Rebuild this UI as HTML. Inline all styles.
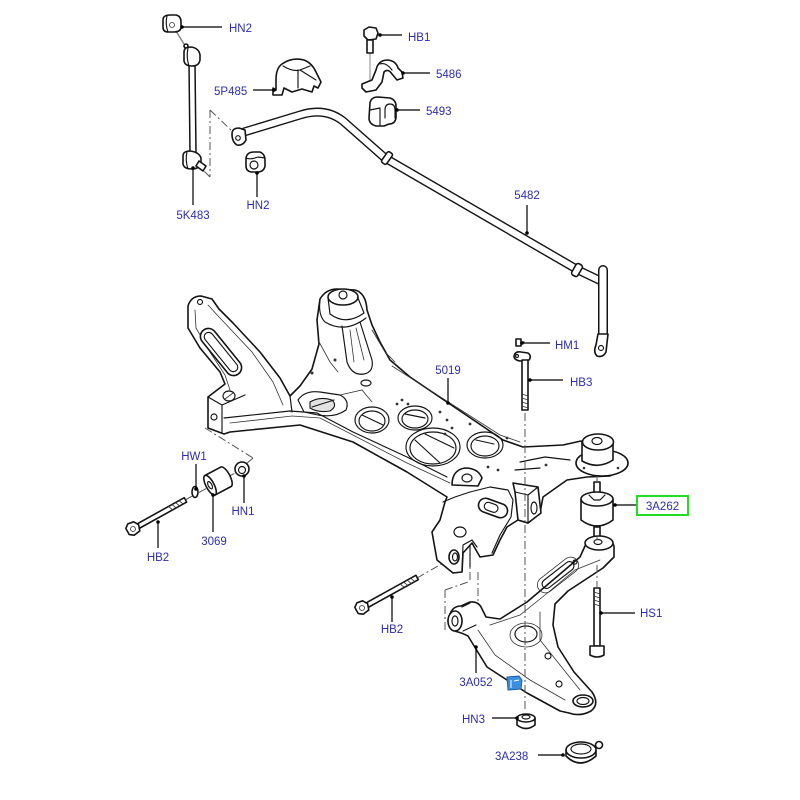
<!DOCTYPE html>
<html><head><meta charset="utf-8"><style>
html,body{margin:0;padding:0;background:#fff;}
svg{display:block}
.o{fill:#fff;stroke:#141414;stroke-width:1.6;stroke-linejoin:round;stroke-linecap:round}
.l{fill:none;stroke:#141414;stroke-width:1.15;stroke-linecap:round;stroke-linejoin:round}
.t{fill:none;stroke:#333;stroke-width:0.8;stroke-linecap:round}
.d{fill:none;stroke:#555;stroke-width:1;stroke-dasharray:8 3 2 3}
.k{stroke:#000;stroke-width:1.2}
text{font-family:"Liberation Sans",Arial,sans-serif;font-size:11.5px;fill:#2c2cb4}
</style></head><body>
<svg width="800" height="800" viewBox="0 0 800 800" xmlns="http://www.w3.org/2000/svg">
<rect width="800" height="800" fill="#fff"/>

<!-- dashed construction lines -->
<path class="d" d="M210,110 L210,177 M210,110 L232,131 M210,177 L201,168"/>
<path class="d" d="M205,428 L253,458 M253,458 L246,464"/>
<path class="d" d="M185,500 L250,465"/>
<path class="d" d="M417,578 L452,558"/>
<path class="d" d="M470,556 L470,580 M445,590 L445,630 M445,590 L468,582 M478,572 L478,612"/>
<path d="M370,50 L370,86" stroke="#888" stroke-width="1"/>

<!-- stabilizer link 5K483 -->
<path d="M176,31 L184,44" stroke="#888" stroke-width="1.5"/>
<path class="o" d="M163,20 Q163,15 170,15 L176,15 Q181,16 181,22 L181,28 Q180,32 174,32 L168,32 Q163,32 163,27 Z"/>
<path class="l" d="M167,16 Q165,24 168,32"/>
<circle class="t" cx="172" cy="25" r="2.5"/>
<circle class="o" cx="186" cy="46" r="2"/>
<path d="M192,64 L193,153" stroke="#141414" stroke-width="7.5" stroke-linecap="round"/>
<path d="M192,64 L193,153" stroke="#fff" stroke-width="4.5" stroke-linecap="round"/>
<path class="o" d="M184,52 Q184,47 191,47 Q199,48 200,55 L200,60 Q199,66 192,66 Q185,66 184,61 Z"/>
<path class="l" d="M188,48 Q186,57 189,66"/>
<path class="o" d="M183,156 Q183,151 190,151 Q199,152 201,158 L201,163 Q199,169 192,169 Q184,169 183,164 Z"/>
<path class="l" d="M187,152 Q185,160 188,169"/>
<path class="o" d="M199,161 L206,166 L203,171 L196,166 Z"/>

<!-- 5P485 bracket -->
<path class="o" d="M276,90 L276,80 Q276,68 282,64 Q292,57 304,60 Q312,63 316,72 L321,82 L318,88 L314,86 L312,92 L302,89 L292,92 L284,88 L282,95 L273,95 L273,88 Z"/>
<path class="l" d="M283,66 Q293,72 300,70 L310,66 M298,70 L298,88 M300,70 L316,80"/>

<!-- HB1 bolt -->
<path class="o" d="M364,30 L369,27 L376,28 L378,33 L376,39 L368,40 L364,36 Z"/>
<rect class="o" x="367" y="40" width="6" height="13"/>

<!-- 5486 clamp -->
<path class="o" d="M362,84 L372,80 L376,70 Q378,60 388,60 Q396,61 398,68 L402,72 L403,78 L397,80 L392,74 Q388,68 384,72 L382,82 L376,90 L366,92 L362,88 Z"/>
<path class="l" d="M376,70 L372,80 M380,64 Q386,62 392,70"/>

<!-- 5493 bush -->
<path class="o" d="M370,103 Q371,97 378,97 L390,98 Q396,100 396,106 L396,118 Q395,124 389,124 L384,126 L376,126 Q369,124 369,118 Z"/>
<path class="l" d="M385,118 L385,110 Q385,104 390,104 Q395,104 395,110 L395,118 M370,110 L380,108 L380,125"/>

<!-- HN2 lower nut -->
<path class="o" d="M246,158 Q247,152 254,152 L260,152 Q265,154 265,160 L265,166 Q264,172 257,172 L251,172 Q246,171 246,166 Z"/>
<circle class="l" cx="254" cy="165" r="4"/>
<path class="l" d="M246,158 Q250,160 258,157 L265,158"/>

<!-- sway bar 5482 -->
<path d="M244,132 L300,115 Q325,107 343,121 L385,158 L578,270 L601,281" stroke="#141414" stroke-width="9" fill="none" stroke-linecap="round" stroke-linejoin="round"/>
<path d="M244,132 L300,115 Q325,107 343,121 L385,158 L578,270 L601,281" stroke="#fff" stroke-width="6.2" fill="none" stroke-linecap="round" stroke-linejoin="round"/>
<path d="M603,270 L603,336" stroke="#141414" stroke-width="10" stroke-linecap="round"/>
<path d="M603,270 L603,336" stroke="#fff" stroke-width="7" stroke-linecap="round"/>
<path class="o" d="M598,334 L608,334 L606,352 Q603,358 597,356 Q593,352 596,345 Z"/>
<circle class="l" cx="601" cy="348" r="2.5"/>
<path class="o" d="M232,134 Q232,128 239,128 L245,130 L246,140 Q243,146 237,145 Q232,142 232,134 Z"/>
<circle class="l" cx="238" cy="138" r="2.3"/>
<g transform="translate(387,158) rotate(35)"><rect class="o" x="-3" y="-6.5" width="6" height="13" rx="2"/></g>
<g transform="translate(577,270) rotate(30)"><rect class="o" x="-3.5" y="-6.5" width="7" height="13" rx="2.5"/></g>

<!-- HM1 / HB3 -->
<path class="o" d="M516,339 L521,339 L521,346 L516,346 Z"/>
<path class="l" d="M521,342 L524,342"/>
<path class="o" d="M514,356 Q515,351 521,352 L528,353 Q532,356 529,360 L520,361 Q514,360 514,356 Z"/>
<circle class="l" cx="517" cy="356" r="1.5"/>
<rect class="o" x="522" y="360" width="6" height="50"/>
<path class="t" d="M522,394 L528,396 M522,398 L528,400 M522,402 L528,404 M522,406 L528,408"/>

<!-- SUBFRAME 5019 -->
<path class="o" d="M188,306 Q191,296 201,296 L212,299 L219,309 L233,323 L260,352 L280,378 L290,396 L300,386 L312,369 L319,344 L317,320 L320,299 Q326,289 337,289 L355,290 Q366,293 367,310 L372,325 L380,342 L390,360 L410,377 L503,440 L523,447 L563,445 L581,441 L600,452 L626,462 L610,476 L587,477 L567,480 L543,497 L540,513 L528,523 L518,520 L507,527 L500,540 L493,555 L480,557 L472,543 L463,553 L462,572 L453,573 L437,560 L432,532 L440,520 L445,502 L447,497 L407,472 L353,442 L300,425 L230,432 L224,434 L208,428 L208,397 L225,384 L220,372 L200,348 L188,328 Z"/>
<!-- beam flange -->
<path class="l" d="M224,418 L290,411 L317,413 L353,432 L407,457 L447,477"/>
<path class="t" d="M230,423 L292,416 L320,418 L407,463 L450,483"/>
<path class="l" d="M290,396 L292,412"/>
<!-- left tower -->
<path class="t" d="M195,310 L196,328 L210,352 L225,375 L230,390"/>
<path class="t" d="M208,305 L220,318 L252,352 L273,382 L283,405"/>
<g transform="translate(221,352) rotate(51)"><rect class="o" x="-28" y="-8" width="56" height="16" rx="8"/><rect class="l" x="-24" y="-4.5" width="48" height="9" rx="4.5"/></g>
<circle class="l" cx="200" cy="302" r="2.5"/>
<path class="l" d="M208,397 L222,405 L222,432 M222,405 L245,395"/>
<ellipse class="l" cx="229" cy="396" rx="6" ry="5"/>
<path class="t" d="M225,399 L233,393"/>
<circle class="l" cx="214" cy="417" r="3"/>
<!-- right tower -->
<path class="l" d="M320,300 Q318,315 325,322 Q345,334 366,318"/>
<path class="l" d="M328,298 L330,314 Q346,326 364,313 L358,298"/>
<ellipse class="o" cx="343" cy="297" rx="15" ry="8"/>
<circle class="l" cx="343" cy="295" r="4"/>
<path class="l" d="M342,326 L347,362 Q352,376 364,374 Q374,372 372,360 L360,322"/>
<path class="t" d="M350,330 L354,362 M356,328 L364,360"/>
<ellipse class="l" cx="366" cy="383" rx="5" ry="3"/>
<path class="t" d="M318,340 L330,362 L338,372 M372,330 L385,352 L395,362"/>
<circle cx="335" cy="360" r="1.5" fill="#333"/><circle cx="312" cy="373" r="1.5" fill="#333"/>
<!-- junction opening -->
<path class="l" d="M298,400 Q305,390 320,392 L340,395 Q350,400 346,410 Q335,418 318,415 L304,412 Z"/>
<path d="M310,402 Q320,396 332,400 Q338,406 330,411 Q318,413 310,408 Z" fill="#e2e2e2" stroke="#141414" stroke-width="1.1"/>
<path class="l" d="M312,407 L334,400"/>
<path class="t" d="M340,395 L362,390 L372,402"/>
<!-- holes -->
<ellipse class="l" cx="372" cy="420" rx="17" ry="13"/>
<ellipse class="l" cx="372" cy="421" rx="13" ry="10"/>
<path class="l" d="M362,415 L383,425"/>
<ellipse class="l" cx="415" cy="418" rx="17" ry="12"/>
<ellipse class="l" cx="415" cy="419" rx="13" ry="9"/>
<path class="l" d="M405,414 L425,418"/>
<ellipse class="l" cx="433" cy="447" rx="27" ry="19"/>
<ellipse class="l" cx="433" cy="448" rx="23" ry="16"/>
<path class="l" d="M415,440 L440,463 M425,434 L454,448"/>
<ellipse class="l" cx="485" cy="445" rx="18" ry="13"/>
<ellipse class="l" cx="485" cy="446" rx="14" ry="10"/>
<path class="l" d="M476,440 L494,444"/>
<g fill="#333"><circle cx="402" cy="400" r="1.4"/><circle cx="408" cy="404" r="1.4"/><circle cx="397" cy="404" r="1.4"/><circle cx="440" cy="412" r="1.4"/><circle cx="447" cy="420" r="1.4"/><circle cx="452" cy="428" r="1.4"/><circle cx="445" cy="434" r="1.4"/><circle cx="470" cy="424" r="1.4"/><circle cx="507" cy="438" r="1.4"/><circle cx="488" cy="467" r="1.4"/><circle cx="498" cy="470" r="1.4"/><circle cx="546" cy="465" r="1.4"/></g>
<path class="t" d="M392,366 L500,435 L520,442"/>
<path class="l" d="M520,462 L545,457 L570,460 M515,470 L540,468"/>
<!-- right mount -->
<ellipse class="o" cx="602" cy="463" rx="26" ry="13"/>
<path class="o" d="M582,442 L582,461 Q598,470 613,460 L613,442 Z"/>
<ellipse class="o" cx="598" cy="442" rx="15.5" ry="8"/>
<ellipse class="l" cx="597" cy="441" rx="5" ry="3.5"/>
<circle cx="584" cy="468" r="1.3" fill="#333"/><circle cx="618" cy="468" r="1.3" fill="#333"/>
<!-- front block -->
<path class="o" d="M513,483 L538,487 L541,513 L528,523 L518,520 L515,492 Z"/>
<path class="l" d="M515,492 L528,495 L538,487 M528,495 L528,523"/>
<ellipse class="l" cx="534" cy="508" rx="3" ry="6"/>
<!-- front bracket -->
<path class="l" d="M443,502 L455,497 L470,492 L490,487 L508,490 L513,500 L511,517 L500,535 L492,553"/>
<g transform="translate(493,508) rotate(20)"><rect class="o" x="-15" y="-7" width="30" height="14" rx="7"/><rect class="l" x="-9" y="-4" width="14" height="8" rx="4"/></g>
<ellipse class="l" cx="460" cy="532" rx="6" ry="5"/>
<ellipse class="o" cx="454" cy="557" rx="5" ry="7"/>
<ellipse class="l" cx="455" cy="557" rx="2.5" ry="4"/>
<path class="l" d="M462,572 L463,545 L472,540 L477,547 M470,545 L470,567"/>
<path class="o" d="M452,485 Q452,470 465,468 Q478,468 482,478 L478,486 Z"/>
<ellipse class="l" cx="467" cy="478" rx="5" ry="4"/>

<!-- left bolt group -->
<g transform="translate(133,529) rotate(-29)">
<rect class="o" x="5" y="-2.5" width="55" height="5"/>
<path class="t" d="M42,-2.5 L44,2.5 M46,-2.5 L48,2.5 M50,-2.5 L52,2.5 M54,-2.5 L56,2.5"/>
<polygon class="o" points="-6,-4 -2,-7 4,-6 7,-1 5,5 -2,6 -6,3"/>
<circle class="t" cx="0" cy="0" r="2.5"/>
</g>
<ellipse class="o" cx="195" cy="492" rx="3" ry="5.5"/>
<g transform="translate(218,481) rotate(-28)">
<path class="o" d="M-9,-11 L9,-11 A4,11 0 0 1 9,11 L-9,11 Z"/>
<ellipse class="o" cx="-9" cy="0" rx="4" ry="11"/>
<ellipse class="l" cx="-9" cy="0" rx="1.8" ry="4"/>
</g>
<circle class="o" cx="242" cy="469" r="7"/>
<circle class="l" cx="242" cy="470" r="3.5"/>

<!-- right HB2 bolt -->
<g transform="translate(362,608) rotate(-29)">
<rect class="o" x="5" y="-2.5" width="58" height="5"/>
<path class="t" d="M45,-2.5 L47,2.5 M49,-2.5 L51,2.5 M53,-2.5 L55,2.5 M57,-2.5 L59,2.5"/>
<polygon class="o" points="-6,-4 -2,-7 4,-6 7,-1 5,5 -2,6 -6,3"/>
<circle class="t" cx="0" cy="0" r="2.5"/>
</g>

<!-- 3A262 bushing -->
<rect class="o" x="594" y="482" width="6" height="12"/>
<path class="o" d="M581,499 L581,520 Q597,532 613,520 L613,499 Z"/>
<ellipse class="o" cx="597" cy="499" rx="16" ry="7"/>
<path class="l" d="M589,495 L594,500 L600,500 L605,495"/>
<rect class="o" x="594" y="527" width="6" height="10"/>

<!-- lower arm 3A052 -->
<path class="o" d="M450,614 Q453,606 461,606 L470,602 Q479,601 482,609 L486,617 L500,619 L527,602 L553,580 L580,557 L585,546 Q590,537 599,537 Q611,537 614,546 L614,557 L603,568 L568,591 L555,604 L553,625 L558,647 L574,672 L592,692 Q600,704 591,711 Q580,717 569,713 L560,711 L527,693 L487,667 L468,636 Q462,633 458,632 Q449,630 448,621 Z"/>
<path class="t" d="M490,625 L520,615 L545,595 L575,570 L600,560 M478,630 L495,655 L530,680 L565,700 M540,612 L540,640 L560,665 L580,690"/>
<ellipse class="o" cx="599" cy="543" rx="14" ry="7"/>
<ellipse class="l" cx="598" cy="542" rx="4" ry="2.5"/>
<path class="l" d="M462,607 L470,603 M463,631 L476,625"/>
<ellipse class="o" cx="455" cy="621" rx="7" ry="10"/>
<ellipse class="l" cx="455" cy="621" rx="3" ry="5"/>
<g transform="translate(558,575) rotate(-38)"><rect class="t" x="-24" y="-8" width="48" height="16" rx="8"/><rect class="l" x="-19" y="-4.5" width="38" height="9" rx="4.5"/></g>
<ellipse class="t" cx="526" cy="635" rx="16" ry="12"/>
<ellipse class="l" cx="526" cy="634" rx="11" ry="8"/>
<circle class="l" cx="548" cy="656" r="3"/>
<circle class="l" cx="559" cy="684" r="3"/>
<circle class="l" cx="575" cy="562" r="2"/>
<ellipse class="o" cx="583" cy="701" rx="10" ry="6"/>
<ellipse class="l" cx="583" cy="701" rx="6" ry="3.5"/>
<path d="M507,677 L519,676 L522,680 L521,689 L508,690 Z" fill="#3b8fde" stroke="#1f5fa8" stroke-width="1"/>
<path d="M511,680 L511,688 M514,681 L519,680" stroke="#fff" stroke-width="1"/>

<!-- HS1 bolt -->
<rect class="o" x="594" y="588" width="6" height="58"/>
<path class="t" d="M594,592 L600,594 M594,596 L600,598 M594,600 L600,602 M594,604 L600,606"/>
<path class="o" d="M590,646 L604,646 L604,655 Q597,659 590,655 Z"/>

<!-- axis lines on top -->
<path class="d" d="M525,413 L525,712"/>
<path class="d" d="M597,476 L597,482 M597,537 L597,540 M597,565 L597,588"/>

<!-- HN3 nut -->
<path class="o" d="M517,718 L517,725 Q526,732 535,725 L535,718 Z"/>
<ellipse class="o" cx="526" cy="718" rx="9" ry="4"/>
<ellipse class="l" cx="526" cy="717" rx="4" ry="2"/>

<!-- 3A238 ring -->
<circle class="o" cx="599" cy="745" r="3.5"/>
<path class="o" d="M566,750 L566,756 Q580,770 596,756 L596,750 Z"/>
<ellipse class="o" cx="581" cy="750" rx="15" ry="8"/>
<ellipse class="l" cx="581" cy="749" rx="10" ry="5"/>

<!-- leaders -->
<g class="k">
<line x1="182" y1="27" x2="222" y2="27"/>
<line x1="380" y1="35" x2="402" y2="35"/>
<line x1="403" y1="73" x2="430" y2="73"/>
<line x1="253" y1="90" x2="274" y2="90"/>
<line x1="397" y1="110" x2="420" y2="110"/>
<line x1="193" y1="168" x2="193" y2="205"/>
<line x1="257" y1="173" x2="257" y2="197"/>
<line x1="527" y1="205" x2="527" y2="233"/>
<line x1="522" y1="343" x2="550" y2="343"/>
<line x1="530" y1="380" x2="563" y2="380"/>
<line x1="448" y1="378" x2="448" y2="403"/>
<line x1="196" y1="464" x2="196" y2="489"/>
<line x1="244" y1="476" x2="244" y2="503"/>
<line x1="213" y1="495" x2="213" y2="532"/>
<line x1="158" y1="522" x2="158" y2="548"/>
<line x1="615" y1="505" x2="637" y2="505"/>
<line x1="392" y1="597" x2="392" y2="622"/>
<line x1="601" y1="613" x2="635" y2="613"/>
<line x1="476" y1="647" x2="476" y2="673"/>
<line x1="492" y1="718" x2="517" y2="718"/>
<line x1="538" y1="755" x2="563" y2="755"/>
</g>
<g fill="#000">
<circle cx="182" cy="27" r="1.8"/><circle cx="380" cy="35" r="1.8"/><circle cx="403" cy="73" r="1.8"/>
<circle cx="274" cy="90" r="1.8"/><circle cx="397" cy="110" r="1.8"/><circle cx="193" cy="168" r="1.8"/>
<circle cx="257" cy="173" r="1.8"/><circle cx="527" cy="233" r="1.8"/><circle cx="522" cy="343" r="1.8"/>
<circle cx="530" cy="380" r="1.8"/><circle cx="448" cy="403" r="1.8"/><circle cx="196" cy="489" r="1.8"/>
<circle cx="244" cy="476" r="1.8"/><circle cx="213" cy="495" r="1.8"/><circle cx="158" cy="522" r="1.8"/>
<circle cx="615" cy="505" r="1.8"/><circle cx="392" cy="597" r="1.8"/><circle cx="601" cy="613" r="1.8"/>
<circle cx="476" cy="647" r="1.8"/><circle cx="517" cy="718" r="1.8"/><circle cx="563" cy="755" r="1.8"/>
</g>

<!-- labels -->
<text x="229" y="32">HN2</text>
<text x="408" y="41">HB1</text>
<text x="436" y="78">5486</text>
<text x="214" y="95">5P485</text>
<text x="426" y="115">5493</text>
<text x="193" y="219" text-anchor="middle">5K483</text>
<text x="258" y="209" text-anchor="middle">HN2</text>
<text x="527" y="199" text-anchor="middle">5482</text>
<text x="555" y="349">HM1</text>
<text x="570" y="386">HB3</text>
<text x="448" y="374" text-anchor="middle">5019</text>
<text x="194" y="460" text-anchor="middle">HW1</text>
<text x="243" y="515" text-anchor="middle">HN1</text>
<text x="214" y="545" text-anchor="middle">3069</text>
<text x="158" y="561" text-anchor="middle">HB2</text>
<rect x="637" y="496" width="51" height="19" fill="none" stroke="#22dd22" stroke-width="2"/>
<text x="662.5" y="510" text-anchor="middle">3A262</text>
<text x="392" y="633" text-anchor="middle">HB2</text>
<text x="640" y="617">HS1</text>
<text x="476" y="686" text-anchor="middle">3A052</text>
<text x="462" y="723">HN3</text>
<text x="495" y="760">3A238</text>
</svg>
</body></html>
